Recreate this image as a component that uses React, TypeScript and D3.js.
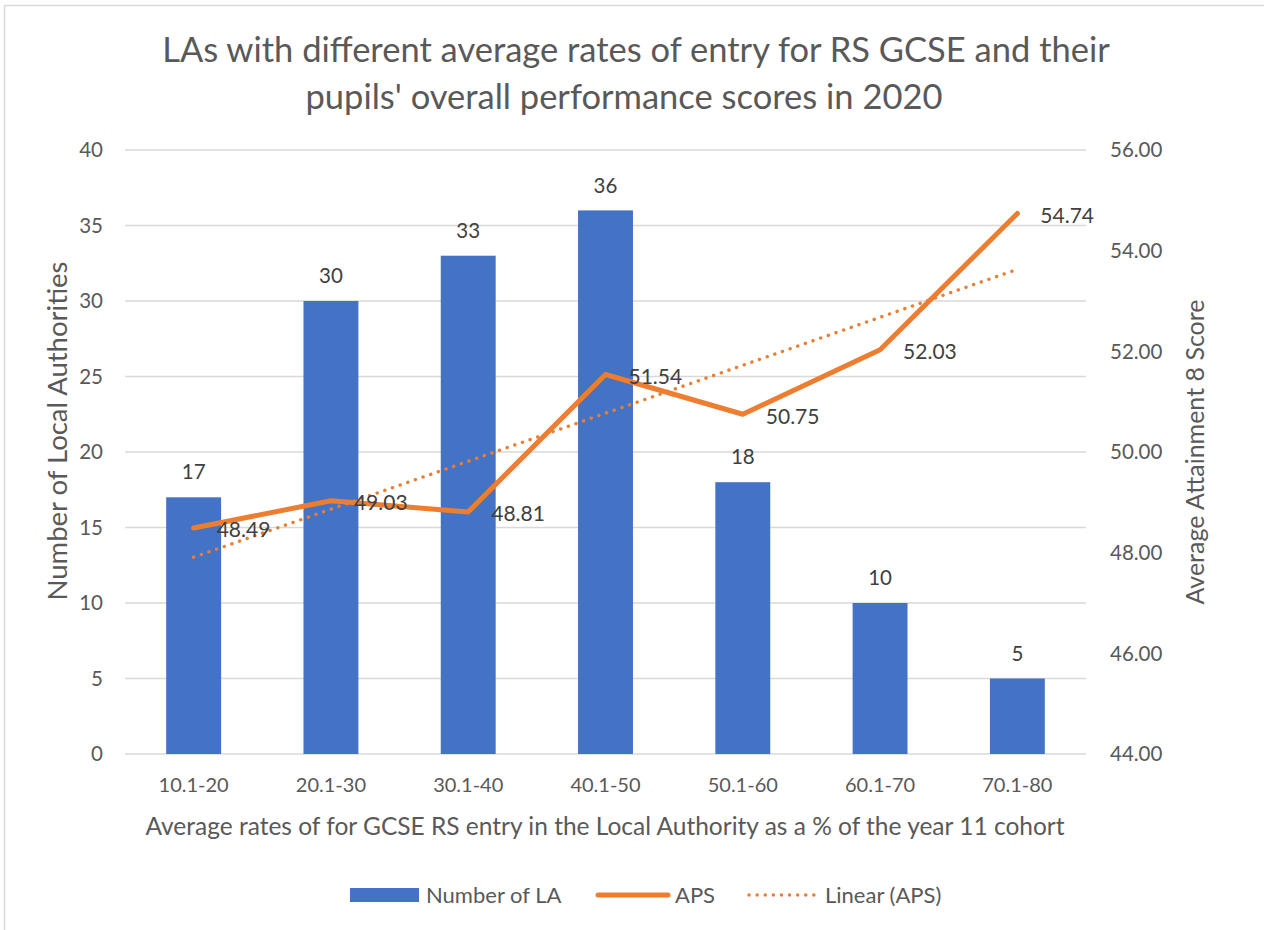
import * as d3 from "d3";
import { useEffect, useRef } from "react";

const W = 1264;
const H = 930;
const margin = { top: 150, right: 178, bottom: 176, left: 125 };

const categories = ["10.1-20", "20.1-30", "30.1-40", "40.1-50", "50.1-60", "60.1-70", "70.1-80"];
const laCounts = [17, 30, 33, 36, 18, 10, 5];
const apsScores = [48.49, 49.03, 48.81, 51.54, 50.75, 52.03, 54.74];
const leftTicks = [0, 5, 10, 15, 20, 25, 30, 35, 40];
const rightTicks = [44, 46, 48, 50, 52, 54, 56];

const FONT = "Lato, 'Open Sans', sans-serif";
const TEXT = "#595959";
const LABEL = "#404040";
const BLUE = "#4472C4";
const ORANGE = "#ED7D31";

export default function App() {
  const svgRef = useRef<SVGSVGElement>(null);

  useEffect(() => {
    document.body.style.margin = "0";
    const svg = d3.select(svgRef.current);
    svg.selectAll("*").remove();

    const innerW = W - margin.left - margin.right;
    const innerH = H - margin.top - margin.bottom;

    // chart frame: only top and left edges are visible in the crop
    svg.append("line").attr("x1", 4.5).attr("x2", W).attr("y1", 5.5).attr("y2", 5.5)
      .attr("stroke", "#d9d9d9").attr("stroke-width", 1.5);
    svg.append("line").attr("x1", 4.5).attr("x2", 4.5).attr("y1", 5.5).attr("y2", H)
      .attr("stroke", "#d9d9d9").attr("stroke-width", 1.5);

    // title
    const title = svg.append("text")
      .attr("text-anchor", "middle")
      .style("font-family", FONT)
      .style("font-size", "34.5px")
      .attr("fill", TEXT);
    title.append("tspan").attr("x", 636).attr("y", 62)
      .text("LAs with different average rates of entry for RS GCSE and their");
    title.append("tspan").attr("x", 624).attr("y", 109)
      .text("pupils' overall performance scores in 2020");

    const g = svg.append("g").attr("transform", `translate(${margin.left},${margin.top})`);

    const x = d3.scaleBand().domain(categories).range([0, innerW]).paddingInner(0.6).paddingOuter(0.3);
    const y = d3.scaleLinear().domain([0, 40]).range([innerH, 0]);
    const y2 = d3.scaleLinear().domain([44, 56]).range([innerH, 0]);

    // gridlines
    g.selectAll(".grid")
      .data(leftTicks)
      .enter()
      .append("line")
      .attr("x1", 0).attr("x2", innerW)
      .attr("y1", d => y(d)).attr("y2", d => y(d))
      .attr("stroke", "#d9d9d9").attr("stroke-width", 1.3);

    // left tick labels
    g.selectAll(".lt")
      .data(leftTicks)
      .enter()
      .append("text")
      .attr("x", -22).attr("y", d => y(d)).attr("dy", "0.35em")
      .attr("text-anchor", "end")
      .style("font-family", FONT).style("font-size", "20.5px")
      .attr("fill", TEXT)
      .text(d => d);

    // right tick labels
    g.selectAll(".rt")
      .data(rightTicks)
      .enter()
      .append("text")
      .attr("x", innerW + 24).attr("y", d => y2(d)).attr("dy", "0.35em")
      .attr("text-anchor", "start")
      .style("font-family", FONT).style("font-size", "20.5px")
      .attr("fill", TEXT)
      .text(d => d.toFixed(2));

    // category labels
    g.selectAll(".ct")
      .data(categories)
      .enter()
      .append("text")
      .attr("x", d => x(d)! + x.bandwidth() / 2).attr("y", innerH + 31)
      .attr("dy", "0.35em")
      .attr("text-anchor", "middle")
      .style("font-family", FONT).style("font-size", "20px")
      .attr("fill", TEXT)
      .text(d => d);

    // axis titles
    svg.append("text")
      .attr("x", 605).attr("y", 826).attr("dy", "0.35em")
      .attr("text-anchor", "middle")
      .style("font-family", FONT).style("font-size", "24.5px")
      .attr("fill", TEXT)
      .text("Average rates of for GCSE RS entry in the Local Authority as a % of the year 11 cohort");

    svg.append("text")
      .attr("transform", `translate(57,${margin.top + innerH / 2 - 21}) rotate(-90)`)
      .attr("dy", "0.35em")
      .attr("text-anchor", "middle")
      .style("font-family", FONT).style("font-size", "27.5px")
      .attr("fill", TEXT)
      .text("Number of Local Authorities");

    svg.append("text")
      .attr("transform", `translate(1195,${margin.top + innerH / 2}) rotate(-90)`)
      .attr("dy", "0.35em")
      .attr("text-anchor", "middle")
      .style("font-family", FONT).style("font-size", "25px")
      .attr("fill", TEXT)
      .text("Average Attainment 8 Score");

    // bars
    g.selectAll(".bar")
      .data(laCounts)
      .enter()
      .append("rect")
      .attr("x", (d, i) => x(categories[i])!)
      .attr("y", d => y(d))
      .attr("width", x.bandwidth())
      .attr("height", d => innerH - y(d))
      .attr("fill", BLUE);

    g.selectAll(".barlabel")
      .data(laCounts)
      .enter()
      .append("text")
      .attr("x", (d, i) => x(categories[i])! + x.bandwidth() / 2)
      .attr("y", d => y(d) - 25)
      .attr("dy", "0.35em")
      .attr("text-anchor", "middle")
      .style("font-family", FONT).style("font-size", "20.5px")
      .attr("fill", LABEL)
      .text(d => d);

    const cx = (i: number) => x(categories[i])! + x.bandwidth() / 2;

    // linear trend (least squares over category index)
    const n = apsScores.length;
    const xs = apsScores.map((_, i) => i + 1);
    const mx = d3.mean(xs)!;
    const my = d3.mean(apsScores)!;
    const slope = d3.sum(xs, (xv, i) => (xv - mx) * (apsScores[i] - my)) / d3.sum(xs, xv => (xv - mx) ** 2);
    const icpt = my - slope * mx;
    const trend = [0, n - 1].map(i => [cx(i), y2(icpt + slope * (i + 1))] as [number, number]);

    g.append("path")
      .attr("d", d3.line()(trend))
      .attr("fill", "none")
      .attr("stroke", ORANGE)
      .attr("stroke-width", 3.4)
      .attr("stroke-linecap", "round")
      .attr("stroke-dasharray", "0.1 8");

    const line = d3.line<number>()
      .x((d, i) => cx(i))
      .y(d => y2(d));

    g.append("path")
      .attr("d", line(apsScores))
      .attr("fill", "none")
      .attr("stroke", ORANGE)
      .attr("stroke-width", 5)
      .attr("stroke-linejoin", "round")
      .attr("stroke-linecap", "round");

    g.selectAll(".apslabel")
      .data(apsScores)
      .enter()
      .append("text")
      .attr("x", (d, i) => cx(i) + 23)
      .attr("y", d => y2(d) + 2)
      .attr("dy", "0.35em")
      .attr("text-anchor", "start")
      .style("font-family", FONT).style("font-size", "21px")
      .attr("fill", LABEL)
      .text(d => d.toFixed(2));

    // legend
    const lg = svg.append("g").style("font-family", FONT).style("font-size", "22px");
    lg.append("rect").attr("x", 350).attr("y", 888).attr("width", 69).attr("height", 14).attr("fill", BLUE);
    lg.append("text").attr("x", 426).attr("y", 895).attr("dy", "0.35em").attr("fill", TEXT).text("Number of LA");
    lg.append("line").attr("x1", 598).attr("x2", 668).attr("y1", 895).attr("y2", 895)
      .attr("stroke", ORANGE).attr("stroke-width", 5).attr("stroke-linecap", "round");
    lg.append("text").attr("x", 675).attr("y", 895).attr("dy", "0.35em").attr("fill", TEXT).text("APS");
    lg.append("line").attr("x1", 749).attr("x2", 818).attr("y1", 895).attr("y2", 895)
      .attr("stroke", ORANGE).attr("stroke-width", 3.4).attr("stroke-linecap", "round")
      .attr("stroke-dasharray", "0.1 8");
    lg.append("text").attr("x", 825).attr("y", 895).attr("dy", "0.35em").attr("fill", TEXT).text("Linear (APS)");
  }, []);

  return <svg ref={svgRef} width={W} height={H} style={{ display: "block" }}></svg>;
}
